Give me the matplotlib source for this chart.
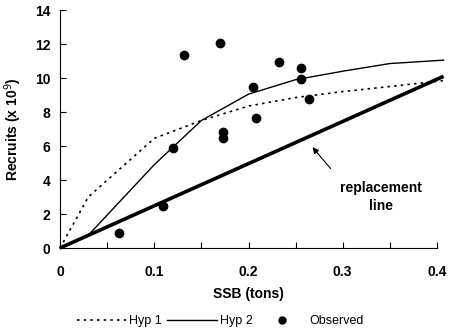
import matplotlib
matplotlib.use('Agg')
import matplotlib.pyplot as plt
from matplotlib.lines import Line2D

plt.rcParams['font.family'] = ['Liberation Sans', 'DejaVu Sans']

# Hypothesis curves (SSB in tons, recruits in 1e9)
hyp1_x = [0, 0.03, 0.1, 0.15, 0.2, 0.25, 0.3, 0.35, 0.407]
hyp1_y = [0, 3.0, 6.45, 7.5, 8.35, 8.85, 9.2, 9.5, 9.85]
hyp2_x = [0, 0.03, 0.1, 0.15, 0.2, 0.25, 0.3, 0.35, 0.407]
hyp2_y = [0, 0.75, 4.9, 7.5, 9.05, 9.9, 10.4, 10.85, 11.05]

# Replacement line
repl_x = [0, 0.407]
repl_y = [0, 10.1]

# Observed points
obs_x = [0.063, 0.109, 0.120, 0.132, 0.170, 0.173, 0.173, 0.205, 0.208, 0.232, 0.256, 0.256, 0.264]
obs_y = [0.9, 2.5, 5.9, 11.35, 12.05, 6.82, 6.45, 9.47, 7.65, 10.94, 10.6, 9.95, 8.75]

fig = plt.figure(figsize=(4.5, 3.3), dpi=100)
ax = fig.add_axes([60/450, 82/330, 377/450, 238/330])

ax.plot(hyp1_x, hyp1_y, color='black', lw=1.2, ls=(0, (1.5, 2.5)), clip_on=False)
ax.plot(hyp2_x, hyp2_y, color='black', lw=1.0, clip_on=False)
ax.plot(repl_x, repl_y, color='black', lw=2.6, clip_on=False, solid_capstyle='butt')
ax.plot(obs_x, obs_y, 'o', color='black', ms=6, clip_on=False)

ax.annotate('', xy=(0.266, 6.05), xytext=(0.289, 4.55),
            arrowprops=dict(arrowstyle='-|>', color='black', lw=0.8,
                            mutation_scale=9))
ax.text(0.341, 3.0, 'replacement\nline', ha='center', va='center',
        fontsize=10, fontweight='bold', linespacing=1.3)

ax.set_xlim(0, 0.4)
ax.set_ylim(0, 14)
ax.set_xticks([0, 0.05, 0.1, 0.15, 0.2, 0.25, 0.3, 0.35, 0.4])
ax.set_xticklabels(['0', '', '0.1', '', '0.2', '', '0.3', '', '0.4'])
ax.set_yticks([0, 2, 4, 6, 8, 10, 12, 14])
ax.tick_params(axis='x', direction='in', length=4, pad=12, labelsize=10)
ax.tick_params(axis='y', direction='in', length=4, pad=7, labelsize=10)
for lab in ax.get_xticklabels() + ax.get_yticklabels():
    lab.set_fontweight('bold')

ax.spines['top'].set_visible(False)
ax.spines['right'].set_visible(False)

ax.set_xlabel('SSB (tons)', fontsize=10, fontweight='bold', labelpad=6)
ax.set_ylabel('Recruits (x 10$^9$)', fontsize=10, fontweight='bold', labelpad=8)

handles = [
    Line2D([], [], color='black', lw=1.2, ls=(0, (1.5, 2.5))),
    Line2D([], [], color='black', lw=1.0),
    Line2D([], [], marker='o', color='black', ls='none', ms=5),
]
fig.legend(handles, ['Hyp 1', 'Hyp 2', 'Observed'], loc='lower center',
           bbox_to_anchor=(0.49, -0.025), ncol=3, frameon=False, fontsize=9,
           handlelength=4.0, handletextpad=0.2, columnspacing=0.4)

fig.savefig('out.png', dpi=100)
